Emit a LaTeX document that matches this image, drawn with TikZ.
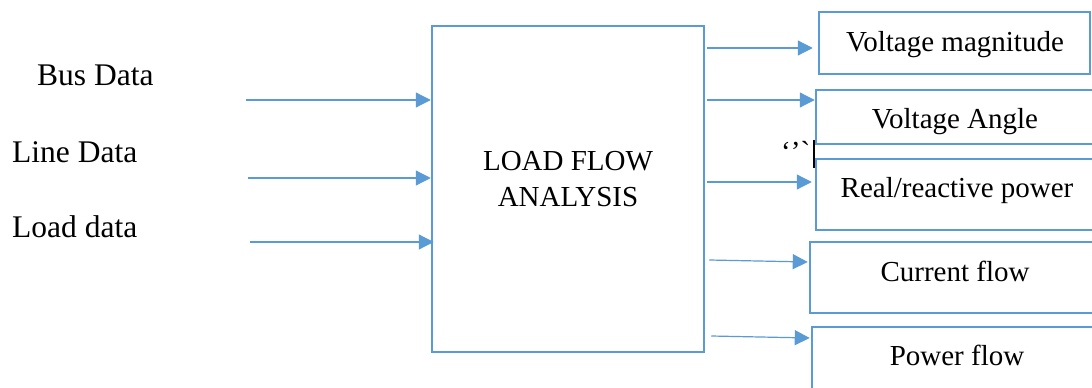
\documentclass[tikz,border=0pt]{standalone}
\usepackage{fontspec}
\setmainfont{Liberation Serif}
\newfontfamily\rawserif{Liberation Serif}[Ligatures=TeXOff]
\usetikzlibrary{arrows.meta,calc}
\definecolor{lineblue}{HTML}{5B9BD5}
\tikzset{
  outbox/.style={draw=lineblue, line width=2.5pt, rectangle, inner sep=0pt},
  arr/.style={draw=lineblue, line width=1.2pt, -{Triangle[length=15pt,width=15pt]}},
  boxlabel/.style={font=\fontsize{29}{35}\selectfont, anchor=base, inner sep=0pt},
  inlabel/.style={font=\fontsize{31.5}{38}\selectfont, anchor=base west, inner sep=0pt}
}
\begin{document}
\begin{tikzpicture}[x=1pt, y=-1pt]
\clip (0,0) rectangle (1092,388);
\fill[white] (0,0) rectangle (1092,388);

% central block
\node[outbox, minimum width=272pt, minimum height=326pt] (main) at (568,189) {};
\node[boxlabel] (mainA) at (568,170) {LOAD FLOW};
\node[boxlabel] (mainB) at (568,206) {ANALYSIS};

% inputs
\node[inlabel] (bus)  at (37,85)  {Bus Data};
\node[inlabel] (line) at (12,162) {Line Data};
\node[inlabel] (load) at (12,237) {Load data};
\coordinate (busin)  at (246,100);
\coordinate (linein) at (248,178);
\coordinate (loadin) at (250,242);
\draw[arr] (busin) -- (busin -| main.west);
\draw[arr] (linein) -- (linein -| main.west);
\draw[arr] (loadin) -- ($(loadin -| main.west)+(3,0)$);

% output boxes
\node[outbox, minimum width=271pt, minimum height=62pt] (vm) at (954.5,43) {};
\node[boxlabel] (vmT) at (955,51) {Voltage magnitude};
\node[outbox, minimum width=278pt, minimum height=54pt] (va) at (955,117) {};
\node[boxlabel] (vaT) at (955,128) {Voltage Angle};
\node[outbox, minimum width=278pt, minimum height=71pt] (rr) at (955,194.5) {};
\node[boxlabel] (rrT) at (957,197) {Real/reactive power};
\node[outbox, minimum width=284pt, minimum height=71pt] (cf) at (952,277.5) {};
\node[boxlabel] (cfT) at (955,281) {Current flow};
\node[outbox, minimum width=282pt, minimum height=80pt] (pf) at (953,367) {};
\node[boxlabel] (pfT) at (957,365) {Power flow};

% stray marks between the boxes
\node[boxlabel, anchor=base west] (marks) at (781,161) {\rawserif ‘’`};
\draw[black, line width=1.3pt] (814,140) -- (814,168);

% outputs
\draw[arr] ($(main.east |- 0,48)+(2,0)$) -- ($(vm.west |- 0,48)+(-5,0)$);
\draw[arr] ($(main.east |- 0,100)+(2,0)$) -- (va.west |- 0,100);
\draw[arr] ($(main.east |- 0,182)+(2,0)$) -- ($(rr.west |- 0,182)+(-3,0)$);
\draw[arr] ($(main.east |- 0,260)+(4,0)$) -- ($(cf.west |- 0,262)+(-1,0)$);
\draw[arr] ($(main.east |- 0,336)+(6,0)$) -- ($(pf.west |- 0,338)+(-1,0)$);
\end{tikzpicture}
\end{document}
